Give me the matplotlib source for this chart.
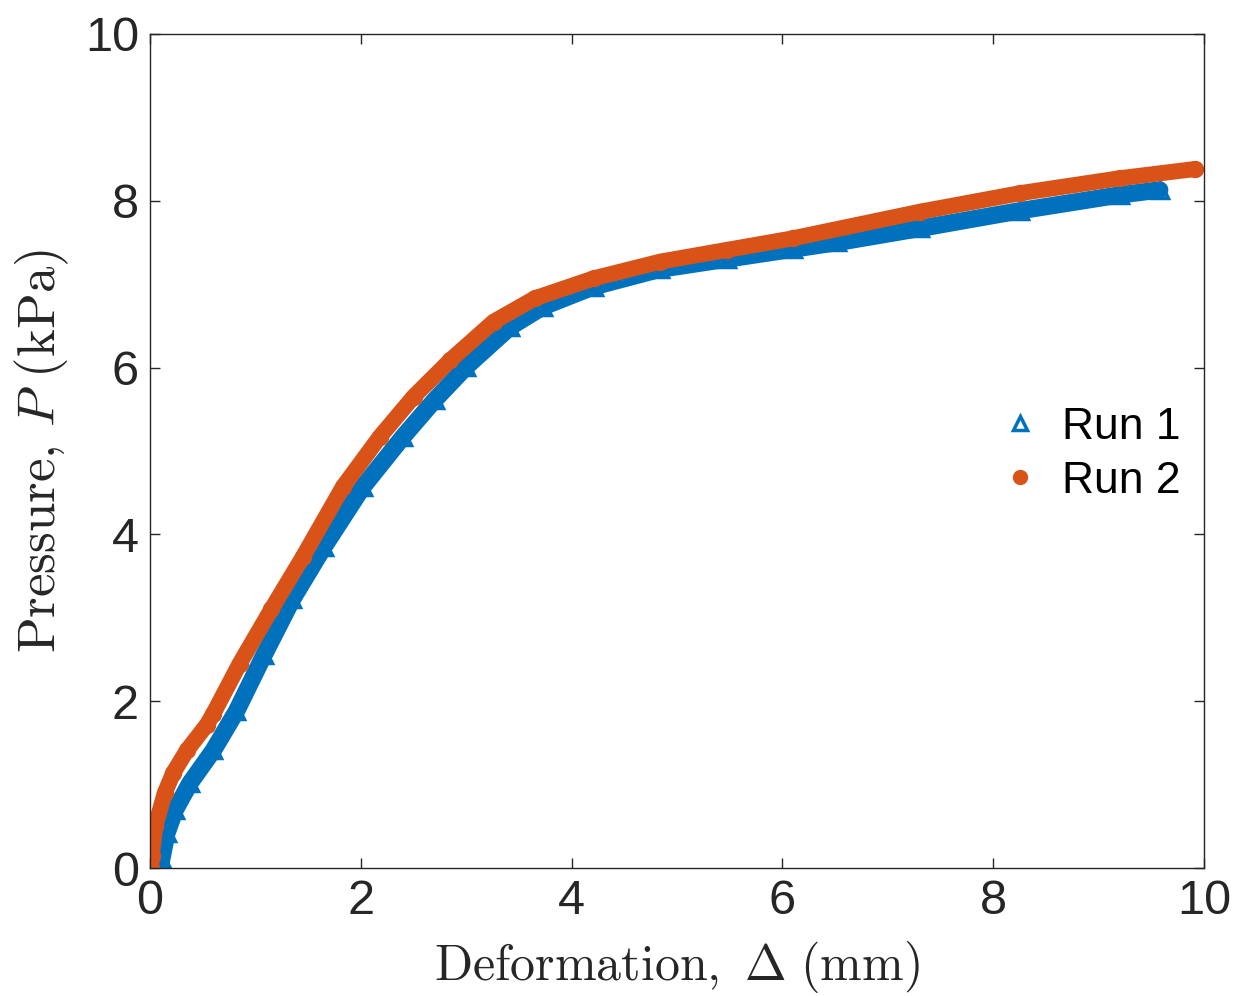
import matplotlib
matplotlib.use('Agg')
import matplotlib.pyplot as plt
from matplotlib.lines import Line2D

plt.rcParams['font.family'] = ['Liberation Sans', 'DejaVu Sans']
plt.rcParams['mathtext.fontset'] = 'cm'

# Run 1 (blue triangles)
run1_x = [0.10, 0.11, 0.16, 0.24, 0.38, 0.60, 0.82, 1.08, 1.35, 1.65, 2.02, 2.40,
          2.70, 3.00, 3.42, 3.73, 4.21, 4.84, 5.47, 6.10, 6.52, 7.31, 8.25, 9.20, 9.58]
run1_y = [0.00, 0.10, 0.42, 0.70, 1.02, 1.41, 1.88, 2.55, 3.22, 3.85, 4.57, 5.17,
          5.61, 6.01, 6.49, 6.73, 6.97, 7.18, 7.30, 7.42, 7.50, 7.67, 7.88, 8.07, 8.13]

# Run 2 (orange circles)
run2_x = [0.01, 0.016, 0.05, 0.14, 0.22, 0.35, 0.54, 0.60, 0.85, 1.15, 1.45, 1.83,
          2.18, 2.50, 2.85, 3.26, 3.65, 4.21, 4.84, 5.47, 6.10, 7.31, 8.25, 9.20, 9.91]
run2_y = [0.00, 0.14, 0.50, 0.90, 1.14, 1.41, 1.72, 1.85, 2.45, 3.10, 3.73, 4.57,
          5.17, 5.65, 6.09, 6.55, 6.83, 7.07, 7.27, 7.41, 7.55, 7.87, 8.09, 8.27, 8.38]

blue = '#0072BD'
orange = '#D95319'
axc = '#262626'

fig = plt.figure(figsize=(12.36, 9.96), dpi=100)
ax = fig.add_axes([0.1214, 0.1285, 0.8527, 0.8374])

ax.plot(run1_x, run1_y, color=blue, lw=12.5, solid_capstyle='round', solid_joinstyle='round',
        marker='^', ms=12, mfc='none', mec=blue, mew=2.5)
ax.plot(run2_x, run2_y, color=orange, lw=11.5, solid_capstyle='round', solid_joinstyle='round',
        marker='o', ms=11.5, mec=orange)

ax.set_xlim(0, 10)
ax.set_ylim(0, 10)
ax.set_xticks([0, 2, 4, 6, 8, 10])
ax.set_yticks([0, 2, 4, 6, 8, 10])
ax.tick_params(direction='in', length=7, width=1, colors=axc, labelsize=35,
               top=True, right=True, pad=8)
for s in ax.spines.values():
    s.set_color(axc)
    s.set_linewidth(1)

ax.set_xlabel(r'$\mathrm{Deformation,}\ \Delta\ \mathrm{(mm)}$', fontsize=36, color=axc, labelpad=11)
ax.set_ylabel(r'$\mathrm{Pressure,}\,P\ \mathrm{(kPa)}$', fontsize=38, color=axc, labelpad=10)

handles = [Line2D([0], [0], ls='none', marker='^', ms=10, mfc='none', mec=blue, mew=2.5, label='Run 1'),
           Line2D([0], [0], ls='none', marker='o', ms=10, color=orange, label='Run 2')]
ax.legend(handles=handles, loc='center right', bbox_to_anchor=(1.016, 0.496), frameon=False,
          fontsize=32, handlelength=1.0, handletextpad=0.45, labelspacing=0.3)

plt.savefig('out.png', dpi=100)
plt.close()
